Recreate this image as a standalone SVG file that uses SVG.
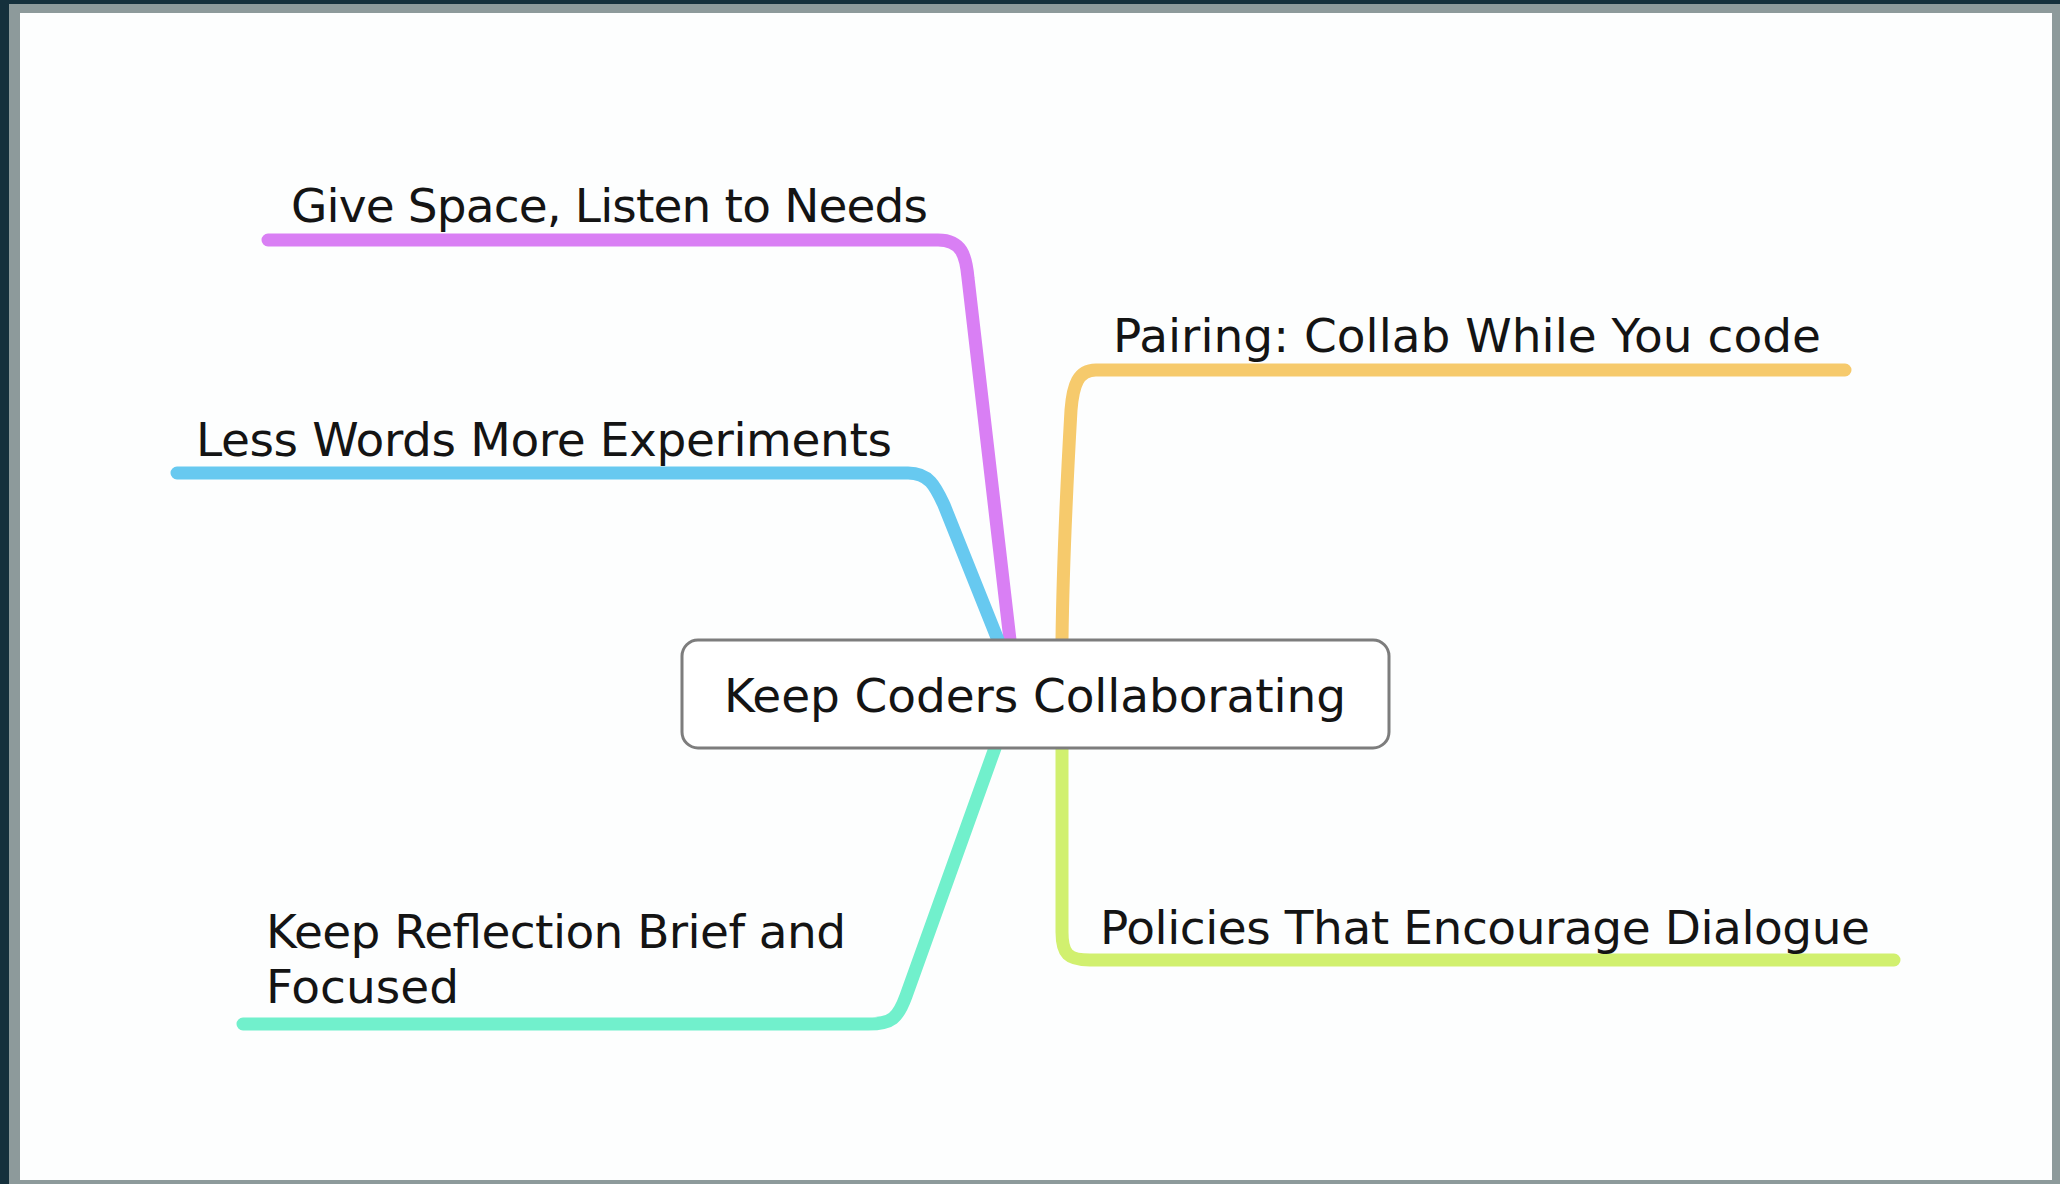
<svg xmlns="http://www.w3.org/2000/svg" width="2060" height="1184" viewBox="0 0 2060 1184">
<style>
.lbl{font-family:"DejaVu Sans","Liberation Sans",sans-serif;font-size:47px;fill:#141414}
.br{fill:none;stroke-width:13;stroke-linecap:round;stroke-linejoin:round}
</style>
<rect x="0" y="0" width="2060" height="1184" fill="#8d9a9b"/>
<rect x="0" y="0" width="2060" height="4" fill="#15303c"/>
<rect x="0" y="0" width="9" height="1184" fill="#15303c"/>
<rect x="20" y="13" width="2032" height="1167" fill="#fdfefe"/>
<g id="connectors">
<path class="br" stroke="#d97ff4" d="M268,240 L938,240 C962,240 966,256 968,278 L1010,640"/>
<path class="br" stroke="#67c9f0" d="M177,473 L908,473 C930,473 936,488 944,505 L998,640"/>
<path class="br" stroke="#f6ca6c" d="M1845,370 L1096,370 C1078,370 1073,385 1071,410 C1067,480 1063,560 1062,640"/>
<path class="br" stroke="#d1f06f" d="M1062,745 L1062,932 C1062,954 1068,960 1090,960 L1894,960"/>
<path class="br" stroke="#71f0cc" d="M995,748 L906,996 C898,1018 892,1024 868,1024 L243,1024"/>
</g>
<g id="center">
<rect x="682" y="640" width="707" height="108" rx="16" fill="#ffffff" stroke="#7d7d7d" stroke-width="3"/>
<text class="lbl" x="724" y="712" textLength="622">Keep Coders Collaborating</text>
</g>
<g id="give-space"><text class="lbl" x="291" y="222" textLength="637">Give Space, Listen to Needs</text></g>
<g id="pairing"><text class="lbl" x="1113" y="352" textLength="708">Pairing: Collab While You code</text></g>
<g id="less-words"><text class="lbl" x="196" y="456" textLength="696">Less Words More Experiments</text></g>
<g id="reflection"><text class="lbl" x="266" y="948" textLength="580">Keep Reflection Brief and</text><text class="lbl" x="266" y="1003">Focused</text></g>
<g id="policies"><text class="lbl" x="1100" y="944" textLength="770">Policies That Encourage Dialogue</text></g>
</svg>
